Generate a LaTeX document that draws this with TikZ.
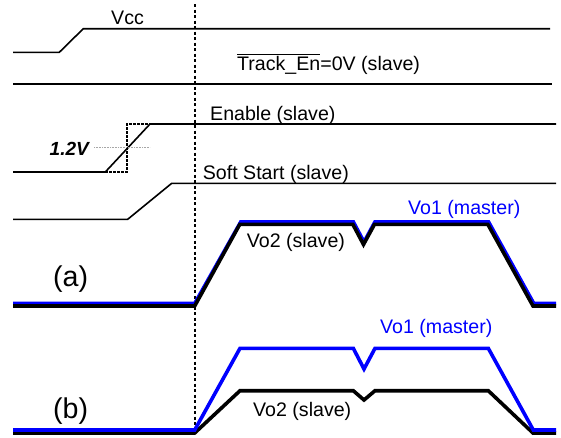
\documentclass[tikz,border=0pt]{standalone}
\usepackage{fontspec}
\setmainfont{Liberation Sans}

\begin{document}
\begin{tikzpicture}[x=1pt,y=-1pt,line join=miter,
    sig/.style={line width=1.6pt},
    outp/.style={line width=3.6pt},
    lbl/.style={anchor=base west,inner sep=0pt,font=\fontsize{19.6}{22}\selectfont},
    big/.style={anchor=base west,inner sep=0pt,font=\fontsize{28.6}{32}\selectfont}]
    % Levels
    \def\tz{194.7}   % start of tracking
    \def\hiA{224.3}
    \def\hiB{390.7}
    \useasboundingbox (0,0) rectangle (561,437);

    % Vcc
    \draw[sig] (13,52.3) -- (59.3,52.3) -- (83.3,28.7) -- (550,28.7);
    \node[lbl] (vcc) at (111,24.5) {Vcc};

    % Track_En
    \draw[sig] (13,84) -- (552,84);
    \node[lbl] (trackEn) at (237,70) {$\overline{\mbox{Track\_En}}$=0V (slave)};

    % Enable with 1.2V threshold
    \draw[sig] (13,172) coordinate (E0) -- (105.3,172) -- (150,124) -- (556,124);
    \draw[line width=1.5pt,dash pattern=on 2.5pt off 1.5pt] (105.3,172) -- (127,172) -- (127,124) -- (150,124);
    \draw[gray!70,line width=1pt,dash pattern=on 1pt off 0.6pt] (94,147.3) -- (150,147.3);
    \node[anchor=base east,inner sep=0pt,font=\fontsize{19}{22}\selectfont\bfseries\itshape] (thr) at (89,155) {1.2V};
    \node[lbl] (enable) at (210,120) {Enable (slave)};

    % Soft start
    \draw[sig] (13,219.3) -- (127.7,219.3) -- (171.7,183.3) -- (556,183.3);
    \node[lbl] (softStart) at (202.7,179) {Soft Start (slave)};

    % start of ramp
    \draw[line width=1.6pt,dash pattern=on 3pt off 2.5pt] (\tz,4) -- (\tz,434);

    % (a) ratiometric
    \draw[outp,blue] (13,303.5) -- (\tz,303.5) -- (240.8,221.8) -- (353.3,221.8) -- (364,242) -- (375,221.8) -- (488.5,221.8) -- (533.8,303.5) -- (556,303.5);
    \draw[outp] (13,306) -- (\tz,306) -- (239.8,\hiA) -- (352.8,\hiA) -- (363.5,244.5) -- (374.5,\hiA) -- (487.8,\hiA) -- (533,306) -- (556,306);
    \node[big] (capA) at (53,286.7) {(a)};
    \node[lbl] (vo2a) at (246.7,247.7) {Vo2 (slave)};
    \node[lbl,blue] (vo1a) at (408,214) {Vo1 (master)};

    % (b) coincident
    \draw[outp] (13,433) -- (\tz,433) -- (240,\hiB) -- (353.3,\hiB) -- (364,400) -- (375,\hiB) -- (488.3,\hiB) -- (533,433) -- (556,433);
    \draw[outp,blue] (13,430) -- (\tz,430) -- (240,348.3) -- (353.3,348.3) -- (364,369) -- (375,348.3) -- (488.3,348.3) -- (533.3,430) -- (556,430);
    \node[big] (capB) at (53,418.3) {(b)};
    \node[lbl] (vo2b) at (253,416.7) {Vo2 (slave)};
    \node[lbl,blue] (vo1b) at (380,333.3) {Vo1 (master)};
\end{tikzpicture}
\end{document}
